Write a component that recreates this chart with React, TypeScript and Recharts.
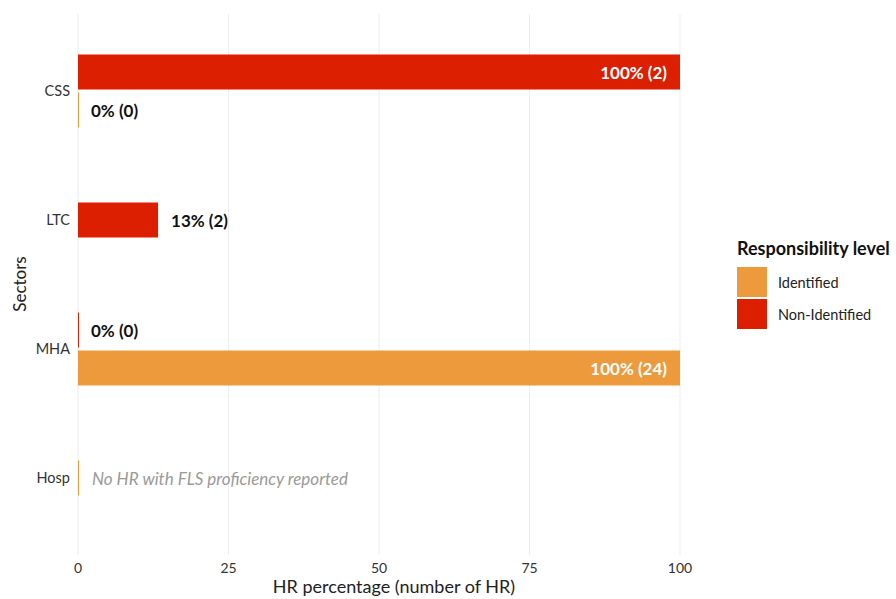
import React from 'react';
import { BarChart, Bar, XAxis, YAxis, CartesianGrid } from 'recharts';

const sectors = ['CSS', 'LTC', 'MHA', 'Hosp'];
const identifiedPct: (number | null)[] = [0, null, 100, 0];
const identifiedN: (number | null)[] = [0, null, 24, 0];
const nonIdentifiedPct: (number | null)[] = [100, 13.3, 0, null];
const nonIdentifiedN: (number | null)[] = [2, 2, 0, null];
const notes: (string | null)[] = [null, null, null, 'No HR with FLS proficiency reported'];
const xTicks = [0, 25, 50, 75, 100];

const COLORS: Record<string, string> = { id: '#EC9A3B', non: '#DC1F00' };
const FONT = 'Lato, "Noto Sans", sans-serif';

type Row = {
  sector: string;
  top: number | null; topN: number | null;
  center: number | null; centerN: number | null; centerSeries: string | null;
  bottom: number | null; bottomN: number | null;
  note: string | null;
};

const rows: Row[] = sectors.map((s, i) => {
  const a = identifiedPct[i];
  const b = nonIdentifiedPct[i];
  const both = a != null && b != null;
  return {
    sector: s,
    top: both ? b : null,
    topN: both ? nonIdentifiedN[i] : null,
    bottom: both ? a : null,
    bottomN: both ? identifiedN[i] : null,
    center: both ? null : (b != null ? b : a),
    centerN: both ? null : (b != null ? nonIdentifiedN[i] : identifiedN[i]),
    centerSeries: both ? null : (b != null ? 'non' : 'id'),
    note: notes[i],
  };
});

const makeShape = (slot: 'top' | 'center' | 'bottom') => (props: any) => {
  const { x, y, width, height, payload } = props;
  const v = payload[slot];
  if (v == null) return <g />;
  const series = slot === 'top' ? 'non' : slot === 'bottom' ? 'id' : payload.centerSeries;
  const color = COLORS[series];
  const n = payload[slot + 'N'];
  const w = Math.max(width || 0, 1);
  const cy = y + height / 2;
  const txt = `${Math.round(v)}% (${n})`;
  let label: React.ReactNode;
  if (payload.note && slot === 'center') {
    label = (
      <text x={x + 14} y={cy} dominantBaseline="central" fontFamily={FONT} fontSize={17}
        fontStyle="italic" fill="#9a9a9a">{payload.note}</text>
    );
  } else if (v >= 50) {
    label = (
      <text x={x + width - 13} y={cy} dominantBaseline="central" textAnchor="end" fontFamily={FONT}
        fontSize={17} fontWeight="bold" fill="#ffffff">{txt}</text>
    );
  } else {
    label = (
      <text x={x + width + 13} y={cy} dominantBaseline="central" textAnchor="start" fontFamily={FONT}
        fontSize={17} fontWeight="bold" fill="#111111">{txt}</text>
    );
  }
  return (
    <g>
      <rect x={x} y={y} width={w} height={height} fill={color} />
      {label}
    </g>
  );
};

export default function App() {
  return (
    <div style={{ position: 'absolute', left: 0, top: 0, width: 896, height: 599, background: '#fff', fontFamily: FONT }}>
      <BarChart
        width={896}
        height={599}
        data={rows}
        layout="vertical"
        margin={{ top: 14, right: 216, bottom: 0, left: 0 }}
        barGap={-16}
        barCategoryGap={0}
      >
        <CartesianGrid horizontal={false} stroke="#EDEDED" strokeWidth={1} />
        <XAxis
          type="number"
          domain={[0, 100]}
          ticks={xTicks}
          axisLine={false}
          tickLine={false}
          tickSize={0}
          tickMargin={8}
          height={44}
          tick={{ fontSize: 14, fill: '#333', fontFamily: FONT }}
        />
        <YAxis
          type="category"
          dataKey="sector"
          axisLine={false}
          tickLine={false}
          tickSize={0}
          tickMargin={8}
          width={78}
          padding={{ top: 12.5, bottom: 12.5 }}
          tick={{ fontSize: 14.5, fill: '#333', fontFamily: FONT }}
        />
        <Bar dataKey="top" barSize={35} isAnimationActive={false} shape={makeShape('top')} />
        <Bar dataKey="center" barSize={35} isAnimationActive={false} shape={makeShape('center')} />
        <Bar dataKey="bottom" barSize={35} isAnimationActive={false} shape={makeShape('bottom')} />
      </BarChart>
      <div style={{ position: 'absolute', left: 394, top: 575, transform: 'translateX(-50%)', fontSize: 18, color: '#222', lineHeight: '22px', whiteSpace: 'nowrap' }}>
        HR percentage (number of HR)
      </div>
      <div style={{ position: 'absolute', left: 20, top: 284, transform: 'translate(-50%, -50%) rotate(-90deg)', fontSize: 17, color: '#222', whiteSpace: 'nowrap', lineHeight: '22px' }}>
        Sectors
      </div>
      <div style={{ position: 'absolute', left: 737, top: 237, fontSize: 18, fontWeight: 'bold', color: '#111', whiteSpace: 'nowrap', lineHeight: '22px' }}>
        Responsibility level
      </div>
      {[['id', 'Identified'], ['non', 'Non-Identified']].map(([k, lab], i) => (
        <div key={k} style={{ position: 'absolute', left: 737, top: 267 + i * 32, height: 30, display: 'flex', alignItems: 'center' }}>
          <div style={{ width: 30, height: 30, background: COLORS[k] }} />
          <div style={{ marginLeft: 11, fontSize: 14.5, color: '#222', whiteSpace: 'nowrap' }}>{lab}</div>
        </div>
      ))}
    </div>
  );
}
